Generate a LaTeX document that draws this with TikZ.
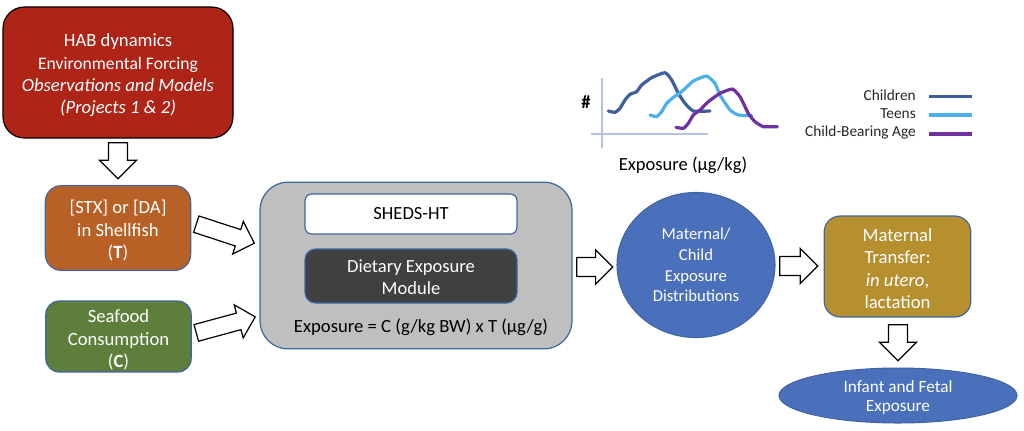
\documentclass[tikz,border=0pt]{standalone}
\usepackage{fontspec}
\setmainfont{Carlito}
\usetikzlibrary{shapes.geometric,shapes.arrows}
\newcommand{\fontpx}[2]{\fontsize{#1}{#2}\selectfont}
\definecolor{edgeblue}{HTML}{41659F}
\definecolor{habred}{HTML}{AE2417}
\definecolor{shellorange}{HTML}{B86126}
\definecolor{seagreen}{HTML}{5E7F3B}
\definecolor{modgray}{HTML}{BFBFBF}
\definecolor{moddark}{HTML}{404040}
\definecolor{distblue}{HTML}{4A70BC}
\definecolor{goldbox}{HTML}{B68F2E}
\definecolor{axisblue}{HTML}{B4C2E4}
\definecolor{kids}{HTML}{3E5F9E}
\definecolor{teens}{HTML}{4CB0EA}
\definecolor{cba}{HTML}{7030A0}
\tikzset{
  x=.75pt,y=-.75pt,
  box/.style={draw=edgeblue,line width=.9pt,rectangle,outer sep=0pt,inner sep=0pt,align=center,text=white},
  blob/.style={draw=edgeblue,line width=.8pt,ellipse,outer sep=0pt,inner sep=0pt,align=center,text=white,fill=distblue},
  blockarrow/.style={draw=black,fill=white,line width=.9pt,single arrow,shape border rotate=0,inner xsep=0pt,inner ysep=6.7pt,outer sep=0pt,
    single arrow head extend=6.75pt,single arrow tip angle=90,single arrow head indent=0pt},
  slimarrow/.style={blockarrow,inner ysep=6pt,single arrow head extend=6.4pt},
  curve/.style={line width=2.4pt,line cap=round,line join=round},
  legendtext/.style={anchor=east,inner sep=0pt,text=black!85,font=\fontpx{11.5pt}{13pt}},
  bigtext/.style={font=\fontpx{14pt}{16.8pt}},
}
\begin{document}
\begin{tikzpicture}
\useasboundingbox (0,0) rectangle (1024,430);
% top box
\node[box,draw=black,fill=habred,rounded corners=16pt,minimum width=172.5pt,minimum height=98.2pt,bigtext] (hab) at (118,72.5)
  {\rule{0pt}{14pt}HAB dynamics\\{\fontsize{13.2pt}{16.8pt}\selectfont Environmental Forcing}\\\itshape Observations and Models\\\itshape (Projects 1 \& 2)};
\node[box,fill=shellorange,rounded corners=12pt,minimum width=109pt,minimum height=63.5pt,bigtext] (shell) at (118,228)
  {\rule{0pt}{14pt}[STX] or [DA]\\in Shellfish\\(\textbf{T})};
\node[box,fill=seagreen,rounded corners=10pt,minimum width=109pt,minimum height=53.2pt,bigtext] (food) at (118.5,336.5)
  {\rule{0pt}{15pt}Seafood\\Consumption\\(\textbf{C})};
% module
\node[box,fill=modgray,rounded corners=21pt,minimum width=234pt,minimum height=125pt] (module) at (416,265.5) {};
\node[box,fill=white,text=black,rounded corners=5pt,minimum width=159pt,minimum height=30pt,font=\fontpx{13.9pt}{16pt}] (sheds) at (411,214) {SHEDS-HT};
\node[box,fill=moddark,rounded corners=8pt,minimum width=159pt,minimum height=40.5pt,font=\fontpx{13.9pt}{16.5pt}] (diet) at (411,276) {\rule{0pt}{12pt}Dietary Exposure\\Module};
\node[inner sep=0pt,text=black,font=\fontpx{14pt}{16pt}] (formula) at (421,327) {Exposure = C (g/kg BW) x T (µg/g)};
% outputs
\node[blob,minimum width=118.5pt,minimum height=108.8pt,font=\fontpx{12.5pt}{15.4pt}] (dist) at (696,265)
  {Maternal/\\Child\\Exposure\\Distributions};
\node[box,fill=goldbox,rounded corners=12pt,minimum width=110pt,minimum height=75.7pt,bigtext] (transfer) at (897.5,266.5)
  {\rule{0pt}{13pt}Maternal\\Transfer:\\\textit{in utero},\\lactation};
\node[blob,minimum width=178.5pt,minimum height=41.2pt,font=\fontpx{12.9pt}{14.6pt}] (infant) at (898,395.5)
  {\rule{0pt}{12pt}Infant and Fetal\\Exposure};
% block arrows
\node[blockarrow,rotate=-90,minimum height=27pt] (a1) at (118,156) {};
\node[slimarrow,rotate=-18.1,minimum height=45.8pt] (a2) at (221.2,232.3) {};
\node[slimarrow,rotate=15.2,minimum height=45.8pt] (a3) at (221.6,326) {};
\node[blockarrow,single arrow head extend=5.7pt,rotate=0,minimum height=27pt] (a4) at (590,267) {};
\node[blockarrow,single arrow head extend=6pt,rotate=0,minimum height=28.5pt] (a5) at (794,266) {};
\node[blockarrow,rotate=-90,minimum height=27pt] (a6) at (898,338) {};
% chart
\coordinate (vtop) at (602,78);
\coordinate (vbot) at (602,148);
\coordinate (hleft) at (591,134);
\coordinate (hright) at (708,134);
\draw[axisblue,line width=1pt] (vtop) -- (vbot);
\draw[axisblue,line width=1pt] (hleft) -- (hright);
\node[inner sep=0pt,font=\fontpx{14pt}{16pt}\bfseries] (hash) at (586,102) {\#};
\node[inner sep=0pt,text=black,font=\fontpx{13.9pt}{16pt}] (xlabel) at (683,165) {Exposure (µg/kg)};
\begin{scope}[shift={(560,60)},x=.25pt,y=-.25pt]
\draw[curve,kids] plot[smooth,tension=.3] coordinates {(145,153) (165,157) (180,145) (195,120) (210,103) (230,95) (245,75) (275,53) (315,38) (335,60) (355,100) (375,130) (400,153) (450,153)};
\draw[curve,teens] plot[smooth,tension=.3] coordinates {(270,165) (290,170) (305,155) (320,130) (340,112) (365,95) (400,63) (440,48) (465,70) (480,105) (510,150) (535,165) (575,167)};
\draw[curve,cba] plot[smooth,tension=.3] coordinates {(348,202) (370,205) (385,190) (400,165) (420,150) (445,125) (480,100) (517,87) (540,110) (565,160) (585,185) (610,200) (652,200)};
\end{scope}
% legend
\node[legendtext] (l1) at (916,95) {Children};
\node[legendtext] (l2) at (916,114) {Teens};
\node[legendtext] (l3) at (916,132.5) {Child-Bearing Age};
\coordinate (k1a) at (929,96.5); \coordinate (k1b) at (972,96.5);
\coordinate (k2a) at (929,115); \coordinate (k2b) at (972,115);
\coordinate (k3a) at (929,134); \coordinate (k3b) at (972,134);
\draw[curve,kids,line cap=butt] (k1a) -- (k1b);
\draw[curve,teens,line cap=butt] (k2a) -- (k2b);
\draw[curve,cba,line cap=butt] (k3a) -- (k3b);
\end{tikzpicture}
\end{document}
